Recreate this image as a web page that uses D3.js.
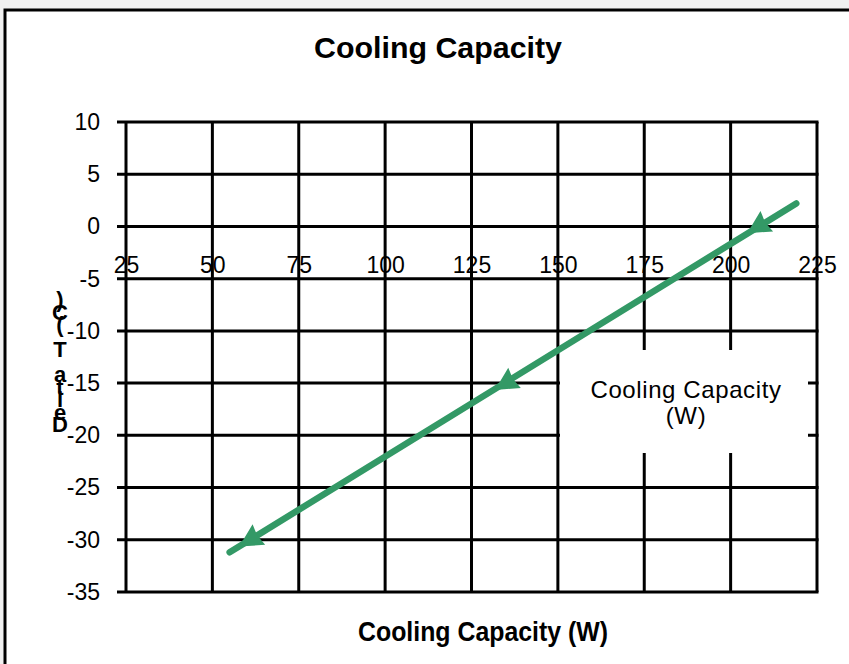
<!DOCTYPE html>
<html>
<head>
<meta charset="utf-8">
<script src="https://cdn.jsdelivr.net/npm/d3@7"></script>
<style>
  html, body { margin: 0; padding: 0; background: #f0f0f0; }
  text { font-family: "Liberation Sans", Arial, sans-serif; fill: #000; }
</style>
</head>
<body>
<div id="app"></div>
<script>
// values
const xTicks = [25, 50, 75, 100, 125, 150, 175, 200, 225];
const yTicks = [10, 5, 0, -5, -10, -15, -20, -25, -30, -35];
const markerX = [61, 135, 208];
const markerY = [-30, -15, 0];
const lineX = [55, 219];
const lineY = [-31.2, 2.2];
const chartTitle = "Cooling Capacity";
const xTitle = "Cooling Capacity (W)";
const yTitle = "Delta T (C)";
const legendLines = ["Cooling Capacity", "(W)"];

const W = 849, H = 664;
const plot = { l: 126, r: 817, t: 122, b: 592 };
const green = "#339966";

const svg = d3.select("#app").append("svg")
    .attr("width", W)
    .attr("height", H)
    .style("display", "block");

// chart area box
svg.append("rect")
    .attr("x", 5).attr("y", 10)
    .attr("width", 860).attr("height", 680)
    .attr("fill", "#fff")
    .attr("stroke", "#000")
    .attr("stroke-width", 3);

const xScale = d3.scaleLinear().domain([25, 225]).range([plot.l, plot.r]);
const yScale = d3.scaleLinear().domain([-35, 10]).range([plot.b, plot.t]);

// grid
const grid = svg.append("g").attr("stroke", "#000").attr("stroke-width", 3);

grid.selectAll(".vline")
    .data(xTicks).enter()
    .append("line")
        .attr("class", "vline")
        .attr("x1", d => xScale(d)).attr("x2", d => xScale(d))
        .attr("y1", plot.t).attr("y2", plot.b);

grid.selectAll(".hline")
    .data(yTicks).enter()
    .append("line")
        .attr("class", "hline")
        .attr("x1", plot.l - 9).attr("x2", plot.r + 1.5)
        .attr("y1", d => yScale(d)).attr("y2", d => yScale(d));

// y axis labels (plain hyphen minus like the original)
const yAxis = svg.append("g")
    .attr("transform", "translate(" + plot.l + ",0)")
    .call(d3.axisLeft(yScale).tickValues(yTicks).tickSize(0).tickPadding(26).tickFormat(d => String(d)));
yAxis.select(".domain").remove();
yAxis.selectAll("text")
    .style("font-size", "23px")
    .style("font-family", "Liberation Sans, Arial, sans-serif");

// x axis labels sit just above the -5 line
const xAxis = svg.append("g")
    .attr("transform", "translate(0,257)")
    .call(d3.axisBottom(xScale).tickValues(xTicks).tickSize(0).tickPadding(0).tickFormat(d => String(d)));
xAxis.select(".domain").remove();
xAxis.selectAll("text")
    .style("font-size", "23px")
    .style("font-family", "Liberation Sans, Arial, sans-serif");

// legend (white box over the grid, text only)
const legend = svg.append("g").attr("transform", "translate(560,350)");
legend.append("rect")
    .attr("width", 248).attr("height", 103)
    .attr("fill", "#fff");
legend.selectAll("text")
    .data(legendLines).enter()
    .append("text")
        .attr("x", 126)
        .attr("y", (d, i) => 48 + i * 26)
        .attr("text-anchor", "middle")
        .style("font-size", "24px")
        .style("letter-spacing", "0.6px")
        .text(d => d);

// series line
const line = d3.line()
    .x(d => xScale(d[0]))
    .y(d => yScale(d[1]));

svg.append("path")
    .datum(d3.zip(lineX, lineY))
    .attr("d", line)
    .attr("fill", "none")
    .attr("stroke", green)
    .attr("stroke-width", 6.5)
    .attr("stroke-linecap", "round");

// arrow-head markers pointing down the line
const ang = Math.atan2(yScale(lineY[1]) - yScale(lineY[0]), xScale(lineX[1]) - xScale(lineX[0])) * 180 / Math.PI;
svg.selectAll(".mark")
    .data(d3.zip(markerX, markerY)).enter()
    .append("path")
        .attr("class", "mark")
        .attr("d", "M-13,0 L10,-12 L8,0 L10,12 Z")
        .attr("fill", green)
        .attr("transform", d => "translate(" + xScale(d[0]) + "," + yScale(d[1]) + ") rotate(" + ang + ")");

// titles (narrow bold, squeezed to the original width)
svg.append("text")
    .attr("x", 438).attr("y", 58)
    .attr("text-anchor", "middle")
    .attr("textLength", 248)
    .attr("lengthAdjust", "spacingAndGlyphs")
    .style("font-size", "30px")
    .style("font-weight", "bold")
    .text(chartTitle);

svg.append("text")
    .attr("x", 483).attr("y", 641)
    .attr("text-anchor", "middle")
    .attr("textLength", 250)
    .attr("lengthAdjust", "spacingAndGlyphs")
    .style("font-size", "28px")
    .style("font-weight", "bold")
    .text(xTitle);

// y title: upright letters stacked bottom to top, tightly packed as in the original
const yChars = yTitle.split("");
svg.append("g").selectAll("text")
    .data(yChars).enter()
    .append("text")
        .attr("x", 60)
        .attr("y", (d, i) => 432 - i * 12.5)
        .attr("text-anchor", "middle")
        .style("font-size", "22px")
        .style("font-weight", "bold")
        .text(d => d);
</script>
</body>
</html>
